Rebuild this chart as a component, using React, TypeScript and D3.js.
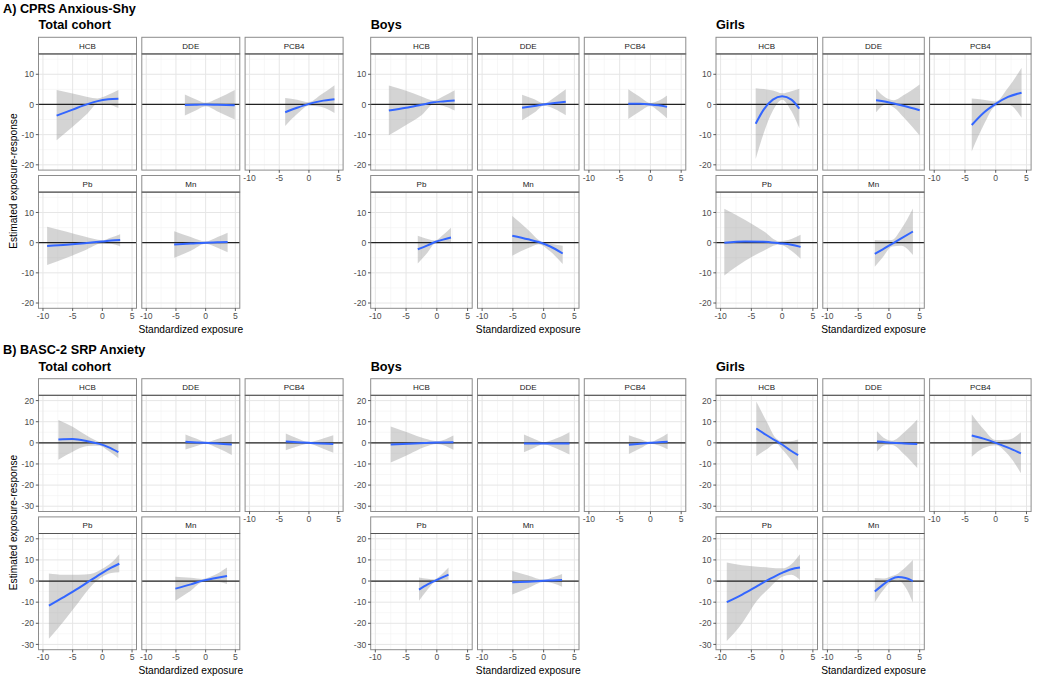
import React from "react";
import * as d3 from "d3";

const exposures = ["HCB", "DDE", "PCB4", "Pb", "Mn"];
const groups = ["Total cohort", "Boys", "Girls"];
const sectionTitles = ["A) CPRS Anxious-Shy", "B) BASC-2 SRP Anxiety"];
const xTicks = [-10, -5, 0, 5];
const xMinor = [-7.5, -2.5, 2.5];
const yTicksA = [-20, -10, 0, 10];
const yMinorA = [-15, -5, 5, 15];
const yTicksB = [-30, -20, -10, 0, 10, 20];
const yMinorB = [-25, -15, -5, 5, 15];

// each row: [standardized exposure, estimate, lower CI, upper CI]
// A) CPRS Anxious-Shy
const aTotalHCB = [[-7.7, -3.7, -11.9, 4.8], [-5, -1.7, -7.4, 3.6], [-2.5, 0.1, -3.0, 2.5], [-0.8, 1.1, 0.2, 2.0], [1, 1.7, 0.0, 3.2], [2.7, 1.9, -1.2, 4.8]];
const aTotalDDE = [[-3.5, -0.2, -3.7, 3.3], [-1.5, -0.1, -1.8, 1.6], [0, 0, -0.6, 0.6], [2, -0.1, -2.3, 2.0], [4.9, -0.3, -5.0, 4.8]];
const aTotalPCB4 = [[-4.0, -2.6, -7.1, 2.1], [-2, -1.1, -3.2, 1.6], [0, 0.2, -0.4, 0.8], [2, 1.1, -0.8, 3.2], [4.3, 1.7, -2.8, 6.4]];
const aTotalPb = [[-9.3, -1.1, -7.4, 5.3], [-6, -0.7, -5.0, 3.6], [-3, -0.2, -2.6, 2.0], [0, 0.4, -0.2, 0.8], [1.5, 0.7, -0.4, 1.7], [3.0, 0.9, -1.3, 2.8]];
const aTotalMn = [[-5.3, -0.6, -5.0, 3.8], [-2.5, -0.3, -2.7, 1.9], [0, 0, -0.4, 0.4], [2, 0.1, -1.7, 1.9], [3.7, 0.2, -3.2, 3.3]];

const aBoysHCB = [[-7.8, -2.0, -10.2, 6.3], [-5, -1.1, -6.8, 4.5], [-2.5, -0.1, -3.6, 2.6], [-0.5, 0.7, 0.1, 1.3], [1, 1.0, -0.4, 2.6], [2.9, 1.3, -2.0, 4.7]];
const aBoysDDE = [[-3.5, -1.1, -5.2, 3.2], [-1.5, -0.5, -2.7, 1.7], [0, 0, -0.4, 0.4], [1.8, 0.5, -1.5, 2.4], [3.6, 0.9, -3.6, 5.0]];
const aBoysPCB4 = [[-3.6, 0.2, -4.8, 5.0], [-1.8, 0.2, -2.4, 2.6], [0, 0, -0.5, 0.5], [1.3, -0.3, -2.2, 1.2], [2.7, -0.8, -4.6, 3.0]];
const aBoysPb = [[-3.1, -2.2, -6.9, 2.3], [-1.5, -0.9, -3.3, 1.2], [-0.3, 0.2, -0.3, 0.7], [1, 1.0, 0.0, 2.5], [2.3, 1.7, -0.2, 4.9]];
const aBoysMn = [[-5.1, 2.3, -4.3, 8.8], [-2.5, 1.1, -1.8, 4.2], [-0.8, 0.2, -0.5, 0.9], [1, -1.2, -2.8, -0.3], [3.1, -3.6, -7.1, -1.0]];

const aGirlsHCB = [[-4.3, -6.4, -18.1, 5.4], [-3, -1.7, -9.5, 5.1], [-1.5, 1.6, -2.0, 4.6], [0, 2.7, 1.6, 3.7], [1.5, 1.6, -2.2, 4.4], [2.8, -1.4, -7.9, 5.2]];
const aGirlsDDE = [[-2.1, 1.4, -2.6, 5.2], [-0.5, 0.9, 0.0, 2.2], [0.8, 0.3, -1.0, 1.4], [2.5, -0.5, -4.5, 3.2], [5.0, -1.9, -10.3, 6.6]];
const aGirlsPCB4 = [[-3.9, -6.8, -15.6, 2.0], [-2, -2.8, -7.0, 1.6], [0, 0.2, -0.5, 1.0], [2, 2.5, 0.0, 5.5], [4.2, 3.9, -4.4, 12.2]];
const aGirlsPb = [[-9.4, 0.0, -10.9, 11.2], [-6, 0.4, -6.0, 7.5], [-3, 0.3, -2.7, 3.8], [-0.5, -0.2, -0.6, 0.5], [1.5, -0.7, -2.7, 1.2], [3.0, -1.4, -5.3, 2.6]];
const aGirlsMn = [[-2.3, -3.7, -8.0, 0.9], [-1, -2.2, -4.8, 0.8], [0.5, -0.4, -1.3, 0.9], [2, 1.4, -1.0, 4.5], [3.9, 3.7, -4.1, 11.3]];

// B) BASC-2 SRP Anxiety
const bTotalHCB = [[-7.4, 1.6, -8.0, 10.8], [-5, 1.8, -4.2, 7.6], [-2.5, 0.8, -1.5, 3.2], [-0.5, -0.5, -1.4, 0.4], [1, -2.0, -3.8, -0.2], [2.7, -4.4, -7.3, -0.6]];
const bTotalDDE = [[-3.4, 0.5, -3.1, 3.9], [-1.5, 0.2, -1.5, 1.9], [0, 0, -0.4, 0.4], [2, -0.3, -2.5, 1.8], [4.4, -0.8, -5.8, 4.2]];
const bTotalPCB4 = [[-3.9, 0.6, -3.5, 4.4], [-2, 0.3, -1.7, 2.2], [0, 0, -0.4, 0.4], [2, -0.3, -2.3, 1.7], [4.1, -0.6, -4.7, 3.6]];
const bTotalPb = [[-9.0, -11.6, -27.3, 3.6], [-6.5, -7.6, -19.0, 3.0], [-4, -3.4, -10.0, 3.0], [-2, 0.3, -2.8, 3.3], [0, 3.9, 2.0, 5.8], [1.5, 6.3, 3.8, 8.6], [2.85, 8.2, 4.2, 12.7]];
const bTotalMn = [[-5.1, -3.6, -9.3, 2.0], [-2.5, -1.6, -4.6, 1.5], [-0.5, 0.2, -0.5, 1.0], [1.5, 1.3, -0.2, 2.8], [3.6, 2.4, -1.4, 6.4]];

const bBoysHCB = [[-7.5, -0.8, -9.3, 7.7], [-4.5, -0.4, -5.4, 4.6], [-2, -0.1, -2.0, 2.0], [0, 0.2, -0.5, 0.8], [2.7, 0.3, -3.3, 3.5]];
const bBoysDDE = [[-3.2, -0.3, -4.4, 3.9], [-1.5, -0.3, -2.3, 1.8], [0, -0.3, -0.7, 0.3], [2, -0.3, -2.6, 2.0], [4.2, -0.3, -5.5, 5.0]];
const bBoysPCB4 = [[-3.5, -0.9, -5.3, 3.6], [-1.7, -0.4, -2.7, 1.8], [0, 0, -0.4, 0.4], [1.4, 0.3, -1.3, 2.0], [2.8, 0.5, -3.0, 4.4]];
const bBoysPb = [[-2.9, -4.1, -9.3, 1.7], [-1.5, -1.6, -4.0, 1.1], [-0.4, 0.0, -0.6, 0.8], [0.8, 1.6, 0.5, 3.2], [1.9, 3.0, 0.6, 6.4]];
const bBoysMn = [[-5.1, -0.6, -6.4, 4.7], [-2.5, -0.3, -3.3, 2.6], [0, 0.1, -0.4, 0.6], [1.5, 0.3, -1.0, 1.8], [3.0, 0.5, -2.7, 3.3]];

const bGirlsHCB = [[-4.2, 6.8, -6.3, 19.6], [-2.5, 3.6, -3.0, 10.0], [-1, 0.9, -0.3, 2.2], [0, -0.8, -3.0, 0.8], [1.3, -3.5, -7.5, 0.8], [2.6, -5.8, -13.3, 1.6]];
const bGirlsDDE = [[-1.95, 0.6, -4.2, 5.5], [-0.5, 0.3, -1.0, 1.8], [0.5, 0.0, -1.0, 1.0], [2.5, -0.3, -5.5, 5.0], [4.6, -0.5, -11.9, 11.0]];
const bGirlsPCB4 = [[-3.9, 3.5, -6.6, 13.5], [-2, 2.0, -2.5, 6.5], [0, 0.0, -1.1, 1.3], [2, -2.3, -5.5, 1.5], [4.1, -5.0, -14.4, 5.0]];
const bGirlsPb = [[-9.0, -10.0, -28.4, 8.8], [-6.5, -6.4, -20.0, 7.5], [-4, -2.3, -9.0, 6.8], [-2, 1.0, -3.0, 6.3], [0, 3.9, 2.0, 6.0], [1.5, 5.6, 3.0, 8.0], [2.9, 6.4, 0.5, 12.7]];
const bGirlsMn = [[-2.3, -5.0, -10.0, 1.4], [-1, -1.8, -4.6, 1.2], [0.3, 0.8, -0.6, 2.2], [1.5, 1.9, 0.2, 3.6], [2.7, 1.4, -3.0, 6.5], [3.9, 0.0, -10.2, 9.9]];

const curvesA = [
  [aTotalHCB, aTotalDDE, aTotalPCB4, aTotalPb, aTotalMn],
  [aBoysHCB, aBoysDDE, aBoysPCB4, aBoysPb, aBoysMn],
  [aGirlsHCB, aGirlsDDE, aGirlsPCB4, aGirlsPb, aGirlsMn],
];
const curvesB = [
  [bTotalHCB, bTotalDDE, bTotalPCB4, bTotalPb, bTotalMn],
  [bBoysHCB, bBoysDDE, bBoysPCB4, bBoysPb, bBoysMn],
  [bGirlsHCB, bGirlsDDE, bGirlsPCB4, bGirlsPb, bGirlsMn],
];

const FONT = "'Liberation Sans', Arial, Helvetica, sans-serif";
const W = 1038;
const H = 679;

// layout
const secTop = [37.3, 378.7];
const stripH = 16.6;
const panelH = 116.2;
const rowGap = 5.4;
const groupLeft = [38.5, 370.7, 716];
const panelW = [98, 101.5, 101.5];
const colGap = 5.3;

const sections = [
  { title: sectionTitles[0], curves: curvesA, yDomain: [-21.75, 16.75], yTicks: yTicksA, yMinor: yMinorA },
  { title: sectionTitles[1], curves: curvesB, yDomain: [-32.5, 22.5], yTicks: yTicksB, yMinor: yMinorB },
];

function Panel({ s, g, e }: { s: number; g: number; e: number }) {
  const sec = sections[s];
  const row = e < 3 ? 0 : 1;
  const col = e % 3;
  const w = panelW[g];
  const x0 = groupLeft[g] + col * (w + colGap);
  const stripTop = secTop[s] + row * (stripH + panelH + rowGap);
  const top = stripTop + stripH;
  const bottom = top + panelH;

  const x = d3.scaleLinear().domain([-10.75, 5.75]).range([x0, x0 + w]);
  const y = d3.scaleLinear().domain(sec.yDomain).range([bottom, top]);
  const data = sec.curves[g][e] as number[][];

  const band = d3
    .area<number[]>()
    .x((d) => x(d[0]))
    .y0((d) => y(d[2]))
    .y1((d) => y(d[3]))
    .curve(d3.curveMonotoneX);
  const fit = d3
    .line<number[]>()
    .x((d) => x(d[0]))
    .y((d) => y(d[1]))
    .curve(d3.curveMonotoneX);

  const showX = row === 1 || col === 2;
  const showY = col === 0;

  return (
    <g>
      <rect x={x0} y={top} width={w} height={panelH} fill="#fff" />
      {xMinor.map((t) => (
        <line key={"xm" + t} x1={x(t)} x2={x(t)} y1={top} y2={bottom} stroke="#f2f2f2" strokeWidth={0.6} />
      ))}
      {sec.yMinor.map((t) => (
        <line key={"ym" + t} x1={x0} x2={x0 + w} y1={y(t)} y2={y(t)} stroke="#f2f2f2" strokeWidth={0.6} />
      ))}
      {xTicks.map((t) => (
        <line key={"xg" + t} x1={x(t)} x2={x(t)} y1={top} y2={bottom} stroke="#e6e6e6" strokeWidth={1} />
      ))}
      {sec.yTicks.map((t) => (
        <line key={"yg" + t} x1={x0} x2={x0 + w} y1={y(t)} y2={y(t)} stroke="#e6e6e6" strokeWidth={1} />
      ))}
      <path d={band(data) || ""} fill="#999" fillOpacity={0.42} />
      <line x1={x0} x2={x0 + w} y1={y(0)} y2={y(0)} stroke="#222" strokeWidth={1.2} />
      <path d={fit(data) || ""} fill="none" stroke="#3366FF" strokeWidth={2} />
      <rect x={x0} y={top} width={w} height={panelH} fill="none" stroke="#8c8c8c" strokeWidth={1} />
      {/* strip */}
      <rect x={x0} y={stripTop} width={w} height={stripH} fill="#fff" stroke="#8c8c8c" strokeWidth={1} />
      <line x1={x0} x2={x0 + w} y1={top} y2={top} stroke="#555" strokeWidth={1} />
      <text x={x0 + w / 2} y={stripTop + stripH / 2 + 2.9} textAnchor="middle" fontSize={8} fill="#1a1a1a" fontFamily={FONT}>
        {exposures[e]}
      </text>
      {showX &&
        xTicks.map((t) => (
          <g key={"xt" + t}>
            <line x1={x(t)} x2={x(t)} y1={bottom} y2={bottom + 2.7} stroke="#333" strokeWidth={0.8} />
            <text x={x(t)} y={bottom + 10.6} textAnchor="middle" fontSize={8.6} fill="#4d4d4d" fontFamily={FONT}>
              {t}
            </text>
          </g>
        ))}
      {showY &&
        sec.yTicks.map((t) => (
          <g key={"yt" + t}>
            <line x1={x0 - 2.7} x2={x0} y1={y(t)} y2={y(t)} stroke="#333" strokeWidth={0.8} />
            <text x={x0 - 4.5} y={y(t) + 3.1} textAnchor="end" fontSize={8.6} fill="#4d4d4d" fontFamily={FONT}>
              {t}
            </text>
          </g>
        ))}
    </g>
  );
}

export default function App() {
  return (
    <svg width={W} height={H} style={{ position: "absolute", left: 0, top: 0, background: "#fff" }}>
      <rect width={W} height={H} fill="#fff" />
      {sections.map((sec, s) => {
        const rowsBottom = secTop[s] + 2 * (stripH + panelH) + rowGap;
        const panelMid = (secTop[s] + stripH + rowsBottom) / 2;
        return (
          <g key={s}>
            <text x={3} y={secTop[s] - 24.3} fontSize={12.7} fontWeight="bold" fontFamily={FONT} fill="#000">
              {sec.title}
            </text>
            {groups.map((grp, g) => {
              const span = 3 * panelW[g] + 2 * colGap;
              return (
                <g key={grp}>
                  <text x={groupLeft[g]} y={secTop[s] - 8} fontSize={12.7} fontWeight="bold" fontFamily={FONT} fill="#000">
                    {grp}
                  </text>
                  {exposures.map((ex, e) => (
                    <Panel key={ex} s={s} g={g} e={e} />
                  ))}
                  <text x={groupLeft[g] + span / 2} y={rowsBottom + 24.2} textAnchor="middle" fontSize={10.2} fontFamily={FONT} fill="#000">
                    Standardized exposure
                  </text>
                  {g === 0 && (
                    <text
                      transform={`translate(16.7,${panelMid}) rotate(-90)`}
                      textAnchor="middle"
                      fontSize={10.2}
                      fontFamily={FONT}
                      fill="#000"
                    >
                      Estimated exposure-response
                    </text>
                  )}
                </g>
              );
            })}
          </g>
        );
      })}
    </svg>
  );
}
